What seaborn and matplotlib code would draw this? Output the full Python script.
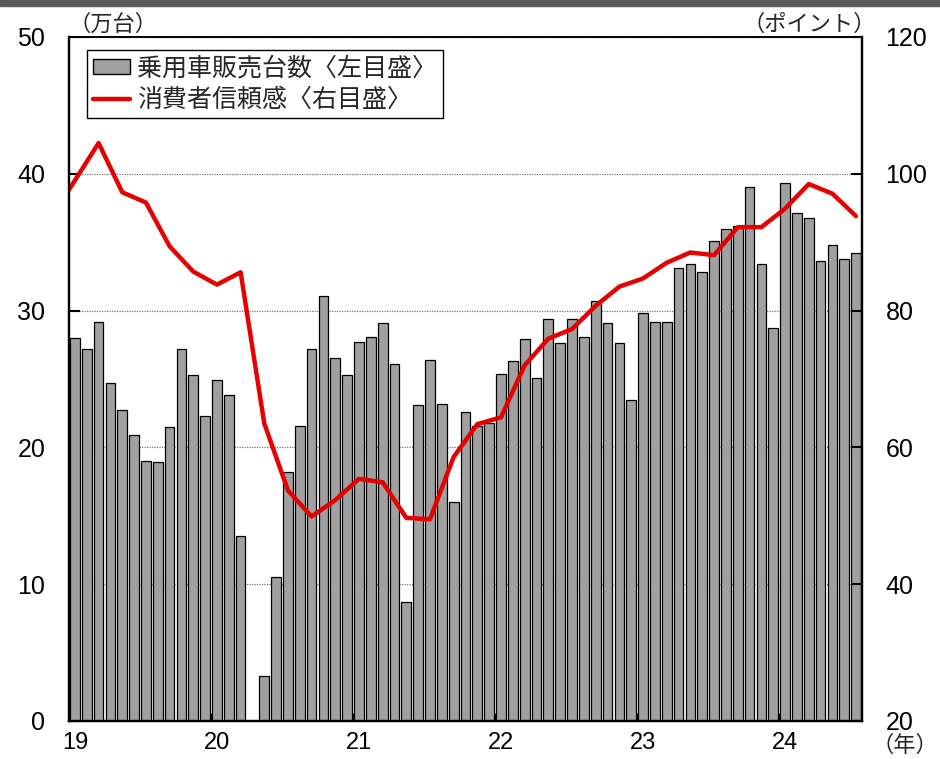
import numpy as np
import pandas as pd
import seaborn as sns
import matplotlib.pyplot as plt
from matplotlib.patches import Patch, Rectangle
from matplotlib.lines import Line2D

# 乗用車販売台数（万台）, 月次 2019年1月〜2024年7月
sales_2019 = [28.0, 27.2, 29.2, 24.7, 22.7, 20.9, 19.0, 18.9, 21.5, 27.2, 25.3, 22.3]
sales_2020 = [24.9, 23.8, 13.5, 0.0, 3.3, 10.5, 18.2, 21.6, 27.2, 31.1, 26.5, 25.3]
sales_2021 = [27.7, 28.1, 29.1, 26.1, 8.7, 23.1, 26.4, 23.2, 16.0, 22.6, 21.6, 21.8]
sales_2022 = [25.4, 26.3, 27.9, 25.1, 29.4, 27.6, 29.4, 28.1, 30.7, 29.1, 27.6, 23.5]
sales_2023 = [29.8, 29.2, 29.2, 33.1, 33.4, 32.8, 35.1, 36.0, 36.2, 39.0, 33.4, 28.7]
sales_2024 = [39.3, 37.1, 36.8, 33.6, 34.8, 33.8, 34.2]
sales = sales_2019 + sales_2020 + sales_2021 + sales_2022 + sales_2023 + sales_2024

# 消費者信頼感（ポイント）, 隔月
conf_months = ["2018-12",
               "2019-03", "2019-05", "2019-07", "2019-09", "2019-11",
               "2020-01", "2020-03", "2020-05", "2020-07", "2020-09", "2020-11",
               "2021-01", "2021-03", "2021-05", "2021-07", "2021-09", "2021-11",
               "2022-01", "2022-03", "2022-05", "2022-07", "2022-09", "2022-11",
               "2023-01", "2023-03", "2023-05", "2023-07", "2023-09", "2023-11",
               "2024-01", "2024-03", "2024-05", "2024-07"]
conf_values = [96.3,
               104.5, 97.3, 95.8, 89.4, 85.7,
               83.8, 85.6, 63.5, 53.7, 49.9, 52.3,
               55.4, 54.9, 49.7, 49.5, 58.6, 63.4,
               64.4, 72.0, 75.9, 77.3, 80.7, 83.5,
               84.7, 87.0, 88.5, 88.1, 92.2, 92.2,
               94.9, 98.5, 97.1, 93.8]

year_labels = ["19", "20", "21", "22", "23", "24"]
label_bar = "乗用車販売台数〈左目盛〉"
label_line = "消費者信頼感〈右目盛〉"

bar_color = "#a0a0a0"
red = "#e60000"

# 月の通し番号（2019年1月 = 0）
df_bar = pd.DataFrame({"idx": np.arange(len(sales)), "sales": sales})
conf_dates = pd.to_datetime(conf_months)
conf_idx = (conf_dates.year - 2019) * 12 + (conf_dates.month - 1)
df_line = pd.DataFrame({"idx": conf_idx, "conf": conf_values})

sns.set_theme(style="ticks")
plt.rcParams["font.family"] = ["Liberation Sans", "Noto Sans CJK JP"]

fig = plt.figure(figsize=(9.4, 7.59), dpi=100)
ax = fig.add_axes([69 / 940, 38 / 759, 793 / 940, 684 / 759])

sns.barplot(data=df_bar, x="idx", y="sales", color=bar_color, saturation=1,
            edgecolor="black", linewidth=0.9, width=0.82, ax=ax)
ax.set_xlim(-0.5, len(sales) - 0.5)
ax.set_ylim(0, 50)
ax.set_xlabel("")
ax.set_ylabel("")
ax.grid(axis="y", linestyle=(0, (1, 1)), color="#777777", linewidth=0.9)
ax.set_axisbelow(True)

ax2 = ax.twinx()
sns.lineplot(data=df_line, x="idx", y="conf", color=red, linewidth=3.2, ax=ax2)
ax2.set_ylim(20, 120)
ax2.set_xlim(-0.5, len(sales) - 0.5)
ax2.set_xlabel("")
ax2.set_ylabel("")

# 目盛
ax.set_xticks(np.arange(len(year_labels)) * 12, labels=year_labels)
ax.set_xticks(np.arange(1, len(year_labels)) * 12 - 0.5, minor=True)
ax.tick_params(axis="x", which="major", length=0, pad=8, labelsize=17, colors="black")
ax.tick_params(axis="x", which="minor", direction="in", length=6, width=2, color="black")
ax.set_yticks(range(0, 51, 10))
ax.tick_params(axis="y", direction="in", length=8, width=1.5, pad=17, labelsize=18, colors="black")
ax2.set_yticks(range(20, 121, 20))
ax2.tick_params(axis="y", direction="in", length=8, width=1.5, pad=17, labelsize=18, colors="black")

for a in (ax, ax2):
    for side, sp in a.spines.items():
        sp.set_visible(True)
        sp.set_color("black")
        sp.set_linewidth(1.2 if side == "top" else 1.6)

handles = [Patch(facecolor=bar_color, edgecolor="black", linewidth=1),
           Line2D([], [], color=red, linewidth=3.2)]
leg = ax2.legend(handles, [label_bar, label_line], loc="upper left",
                 bbox_to_anchor=(18 / 793, 1 - 13 / 684), borderaxespad=0,
                 frameon=True, fancybox=False, edgecolor="black", framealpha=1,
                 fontsize=18, handlelength=1.45, handleheight=0.5,
                 handletextpad=0.3, labelspacing=0.3, borderpad=0.25)
leg.get_frame().set_linewidth(1.0)

ax.text(0, 1 + 1 / 684, "（万台）", transform=ax.transAxes, ha="left", va="bottom", fontsize=16)
ax2.text(1 + 14 / 793, 1 + 1 / 684, "（ポイント）", transform=ax2.transAxes,
         ha="right", va="bottom", fontsize=16)
fig.text(0.998, 0.003, "（年）", ha="right", va="bottom", fontsize=16)

fig.add_artist(Rectangle((0, 1 - 6 / 759), 1, 6 / 759, transform=fig.transFigure,
                         color="#5a5a5a", zorder=0))

fig.savefig("out.png", dpi=100)
